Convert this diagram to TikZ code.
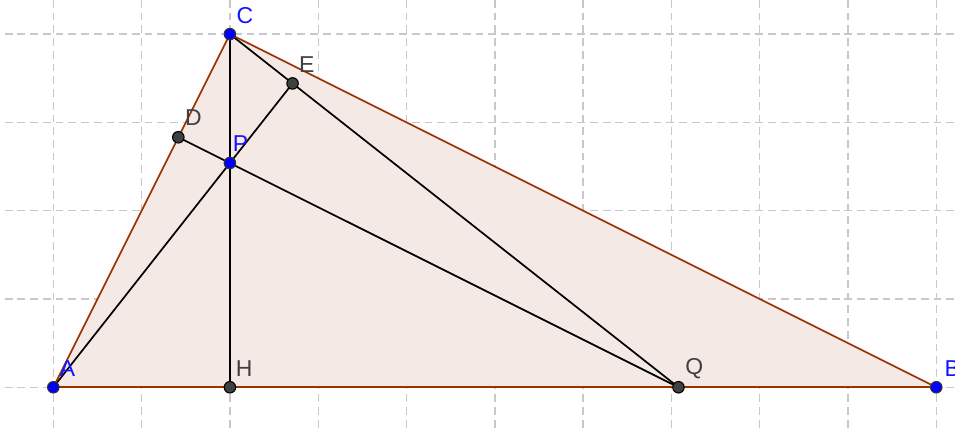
\documentclass[tikz,border=0pt]{standalone}
\usepackage{fontspec}
\setmainfont{Liberation Sans}
\usetikzlibrary{calc}
\definecolor{gridgray}{RGB}{200,200,200}
\definecolor{tribrown}{RGB}{153,51,0}
\definecolor{trifill}{RGB}{245,233,229}
\definecolor{ptblue}{RGB}{0,0,255}
\definecolor{ptgray}{RGB}{64,64,64}
\definecolor{lblblue}{RGB}{20,20,255}
\begin{document}
\begin{tikzpicture}[
  gridline/.style={gridgray, line width=0.45pt, dash pattern=on 2.5pt off 1.6pt},
  edge/.style={tribrown, line width=0.55pt},
  seg/.style={black, line width=0.55pt},
  freept/.style={circle, inner sep=0pt, minimum size=3.7pt, fill=ptblue, draw=black!80, line width=0.35pt},
  deppt/.style={circle, inner sep=0pt, minimum size=3.7pt, fill=ptgray, draw=black, line width=0.35pt},
  bluelbl/.style={text=lblblue, font=\fontsize{7.4}{9}\selectfont, inner sep=0pt},
  graylbl/.style={text=ptgray, font=\fontsize{7.4}{9}\selectfont, inner sep=0pt}
]
\useasboundingbox (-0.604,-0.461) rectangle (10.212,4.386);
% grid
\foreach \x in {0,...,10} \draw[gridline] (\x,4.386) -- (\x,-0.461);
\foreach \y in {0,...,4} \draw[gridline] (-0.55,\y) -- (10.212,\y);
% points
\coordinate (A) at (0,0);
\coordinate (B) at (10,0);
\coordinate (C) at (2,4);
\coordinate (H) at (2,0);
\coordinate (P) at (2,2.54);
\coordinate (Q) at (7.08,0);
\coordinate (D) at ($(A)!(Q)!(C)$);
\coordinate (E) at ($(C)!(A)!(Q)$);
% triangle
\fill[trifill] (A) -- (B) -- (C) -- cycle;
% black segments
\draw[seg] (C) -- (H);
\draw[seg] (A) -- (E);
\draw[seg] (C) -- (Q);
\draw[seg] (D) -- (Q);
% triangle edges
\draw[edge] (A) -- (B);
\draw[edge] (B) -- (C);
\draw[edge] (C) -- (A);
% point marks
\node[deppt] (pD) at (D) {};
\node[deppt] (pE) at (E) {};
\node[deppt] (pH) at (H) {};
\node[deppt] (pQ) at (Q) {};
\node[freept] (pA) at (A) {};
\node[freept] (pB) at (B) {};
\node[freept] (pC) at (C) {};
\node[freept] (pP) at (P) {};
% labels
\node[bluelbl] (lA) at ($(A)+(0.16,0.21)$) {A};
\node[bluelbl] (lB) at ($(B)+(0.18,0.21)$) {B};
\node[bluelbl] (lC) at ($(C)+(0.17,0.205)$) {C};
\node[bluelbl] (lP) at ($(P)+(0.12,0.215)$) {P};
\node[graylbl] (lD) at ($(D)+(0.17,0.218)$) {D};
\node[graylbl] (lE) at ($(E)+(0.16,0.21)$) {E};
\node[graylbl] (lH) at ($(H)+(0.16,0.207)$) {H};
\node[graylbl] (lQ) at ($(Q)+(0.18,0.207)$) {Q};
\end{tikzpicture}
\end{document}
